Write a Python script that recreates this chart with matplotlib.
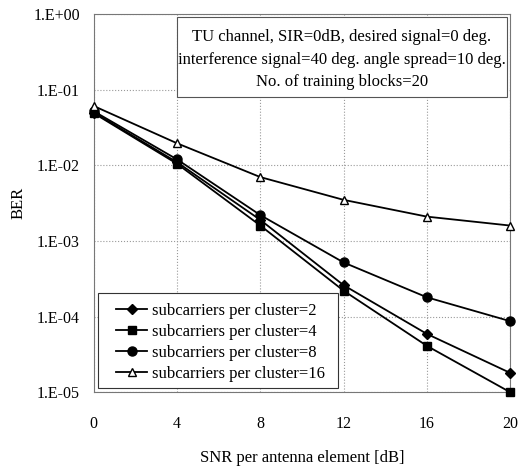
import math

import matplotlib
matplotlib.use("Agg")
import matplotlib.pyplot as plt
from matplotlib.patches import Rectangle
from matplotlib.ticker import FixedLocator, FuncFormatter, NullLocator

plt.rcParams["font.family"] = ["Liberation Serif", "DejaVu Serif"]

snr = [0, 4, 8, 12, 16, 20]
ber_2 = [0.050, 0.011, 0.0019, 2.6e-4, 5.9e-5, 1.8e-5]
ber_4 = [0.049, 0.0105, 0.0016, 2.2e-4, 4.1e-5, 1.0e-5]
ber_8 = [0.052, 0.012, 0.0022, 5.2e-4, 1.8e-4, 8.7e-5]
ber_16 = [0.061, 0.0196, 0.0070, 0.0035, 0.0021, 0.0016]
labels = ["subcarriers per cluster=2", "subcarriers per cluster=4",
          "subcarriers per cluster=8", "subcarriers per cluster=16"]
note = ("TU channel, SIR=0dB, desired signal=0 deg.\n"
        "interference signal=40 deg. angle spread=10 deg.\n"
        "No. of training blocks=20")


def fmt_exp(v, pos):
    e = int(round(math.log10(v)))
    return "1.E+00" if e >= 0 else f"1.E-{-e:02d}"


fig = plt.figure(figsize=(5.18, 4.72), dpi=100)
ax = fig.add_axes([0.181, 0.169, 0.804, 0.801])

styles = [("D", "black", 5), ("s", "black", 6), ("o", "black", 6.5), ("^", "white", 6)]
for y, lab, (m, fc, ms) in zip([ber_2, ber_4, ber_8, ber_16], labels, styles):
    ax.plot(snr, y, "-", color="black", lw=1.3, marker=m, ms=ms,
            mfc=fc, mec="black", mew=1.0, label=lab, clip_on=False, zorder=3)

ax.set_yscale("log")
ax.set_ylim(1e-5, 1)
ax.set_xlim(0, 20)
ax.yaxis.set_major_locator(FixedLocator([1e-5, 1e-4, 1e-3, 1e-2, 1e-1, 1]))
ax.yaxis.set_minor_locator(NullLocator())
ax.yaxis.set_major_formatter(FuncFormatter(fmt_exp))
ax.set_xticks(snr)
ax.tick_params(length=0, labelsize=11.5, pad=10)
ax.tick_params(axis="x", pad=17)
ax.grid(True, color="#999999", ls=":", lw=0.8)
for s in ax.spines.values():
    s.set_color("#777777")
    s.set_linewidth(0.8)

ax.set_xlabel("SNR per antenna element [dB]", fontsize=12, labelpad=13)
ax.set_ylabel("BER", fontsize=12, labelpad=5)

# annotation box (drawn by hand so the padding matches)
ax.add_patch(Rectangle((0.200, 0.780), 0.793, 0.212, transform=ax.transAxes,
                       fc="white", ec="#555555", lw=0.8, zorder=4))
ax.text(0.596, 0.880, note, transform=ax.transAxes, ha="center", va="center",
        fontsize=12, linespacing=1.55, zorder=5)

# legend: frame drawn separately
ax.add_patch(Rectangle((0.0096, 0.0106), 0.577, 0.251, transform=ax.transAxes,
                       fc="white", ec="#333333", lw=0.8, zorder=4))
leg = ax.legend(loc="lower left", bbox_to_anchor=(0.053, 0.028), fontsize=12,
                frameon=False, handlelength=1.9, borderpad=0.0,
                labelspacing=0.3, handletextpad=0.25, borderaxespad=0.0)
leg.set_zorder(5)

fig.savefig("out.png", dpi=100)
